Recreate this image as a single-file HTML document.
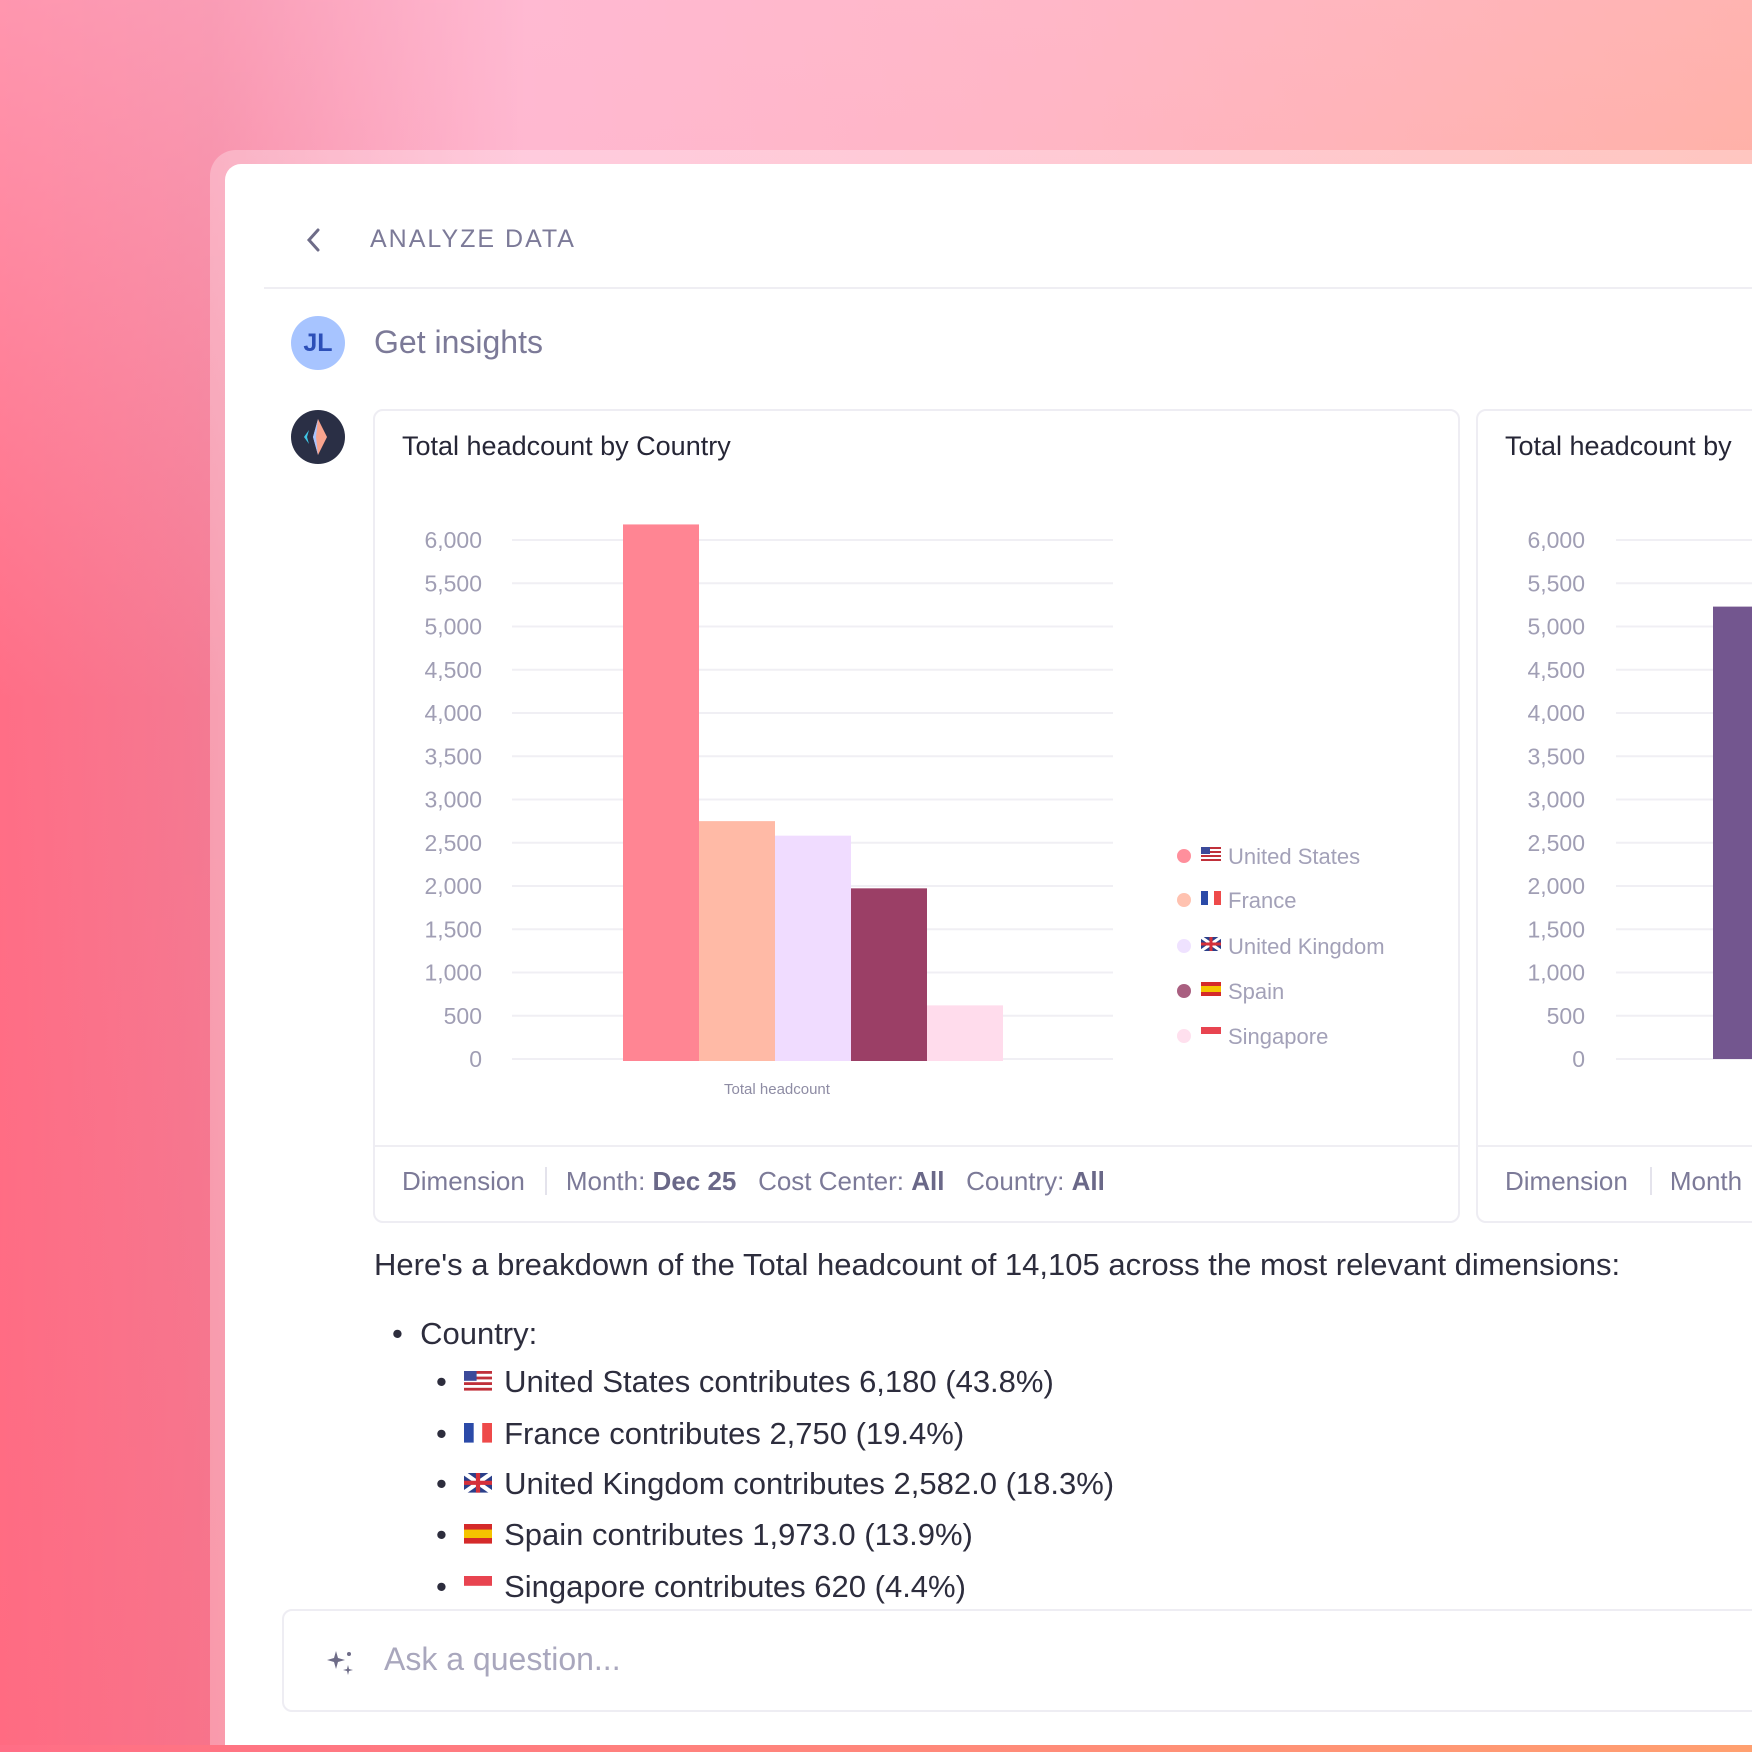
<!DOCTYPE html>
<html><head><meta charset="utf-8">
<style>
*{margin:0;padding:0;box-sizing:border-box}
html,body{width:1752px;height:1752px;overflow:hidden}
body{font-family:"Liberation Sans",sans-serif}
#root{position:absolute;left:0;top:0;width:1752px;height:1752px;overflow:hidden;
background:linear-gradient(90deg,#ff6e86 0%,#f47a93 12%,#ffb4cc 30%,#ffb0b8 60%,#ffa98a 100%);}
#bgtop{position:absolute;left:0;top:0;width:1752px;height:1752px;background:linear-gradient(180deg,rgba(255,190,215,0.5) 0%,rgba(255,110,130,0) 40%,rgba(255,100,120,0.3) 100%)}
#frame{position:absolute;left:210px;top:150px;width:1542px;height:1602px;border-radius:26px 0 0 0;background:rgba(255,255,255,0.28)}
#panel{position:absolute;left:225px;top:164px;width:1527px;height:1588px;border-radius:16px 0 0 0;background:#fff}
#strip{position:absolute;left:0;top:1745px;width:1752px;height:7px;background:linear-gradient(90deg,#ff6e86,#ffa070)}
.abs{position:absolute;white-space:nowrap}
.muted{color:#7c7a98}
.card{position:absolute;border:2px solid #eeedf3;border-radius:10px;background:#fff;overflow:hidden}
</style></head><body>
<div id="root">
<div id="bgtop"></div>
<div id="frame"></div>
<div id="panel"></div>
<div id="strip"></div>

<svg class="abs" style="left:304px;top:227px" width="20" height="26"><path d="M14 3 L5 13 L14 23" stroke="#6e6c88" stroke-width="3" fill="none" stroke-linecap="round"/></svg>
<div class="abs muted" style="left:370px;top:225px;font-size:25px;letter-spacing:2px">ANALYZE DATA</div>
<div class="abs" style="left:264px;top:287px;width:1488px;height:2px;background:#efeef3"></div>

<div class="abs" style="left:291px;top:316px;width:54px;height:54px;border-radius:50%;background:#a7c4ff;color:#2c4fb8;font-weight:bold;font-size:25px;text-align:center;line-height:54px">JL</div>
<div class="abs muted" style="left:374px;top:324px;font-size:32px">Get insights</div>
<svg class="abs" style="left:291px;top:410px" width="54" height="54"><circle cx="27" cy="27" r="27" fill="#2a2f45"/><path d="M27 9 L36 27 L27 45 L22 27Z" fill="#f9a48e"/><path d="M27 9 L22 27 L27 45 L25 27Z" fill="#a7c4ff"/><path d="M18 20 L13 27 L18 34 L16 27Z" fill="#3fc6e6"/></svg>

<div class="card" style="left:373px;top:409px;width:1087px;height:814px">
  <div class="abs" style="left:27px;top:20px;font-size:27px;color:#262636">Total headcount by Country</div>
  <div class="abs" style="left:0;top:734px;width:1083px;height:2px;background:#efeef3"></div>
  <div class="abs muted" style="left:27px;top:755px;font-size:26px">
    <span>Dimension</span><span style="display:inline-block;width:2px;height:28px;background:#e4e3ec;margin:0 19px -5px 20px"></span><span>Month: <b style="color:#6a6888">Dec 25</b></span>&nbsp;&nbsp;&nbsp;<span>Cost Center: <b style="color:#6a6888">All</b></span>&nbsp;&nbsp;&nbsp;<span>Country: <b style="color:#6a6888">All</b></span>
  </div>
</div>
<svg id="chart1" class="abs" style="left:0;top:0" width="1480" height="1120"></svg>

<div class="card" style="left:1476px;top:409px;width:400px;height:814px">
  <div class="abs" style="left:27px;top:20px;font-size:27px;color:#262636">Total headcount by</div>
  <div class="abs" style="left:0;top:734px;width:400px;height:2px;background:#efeef3"></div>
  <div class="abs muted" style="left:27px;top:755px;font-size:26px"><span>Dimension</span><span style="display:inline-block;width:2px;height:28px;background:#e4e3ec;margin:0 18px -5px 22px"></span>Month</div>
</div>
<svg id="chart2" class="abs" style="left:1476px;top:409px" width="276" height="700"></svg>

<div class="abs" style="left:374px;top:1247px;font-size:31px;color:#2d2d3d">Here's a breakdown of the Total headcount of 14,105 across the most relevant dimensions:</div>
<div class="abs" style="left:392px;top:1316px;font-size:31px;color:#2d2d3d">•&nbsp;&nbsp;Country:</div>
<div id="bullets"></div>

<div class="abs" style="left:282px;top:1609px;width:1490px;height:103px;border:2px solid #eeedf3;border-radius:10px;background:#fff">
  <svg class="abs" style="left:40px;top:36px" width="32" height="32"><path d="M12 4 L14 11 L21 13 L14 15 L12 22 L10 15 L3 13 L10 11Z" fill="#6e6c88"/><path d="M24 18 L25 22 L29 23 L25 24 L24 28 L23 24 L19 23 L23 22Z" fill="#6e6c88"/><circle cx="25" cy="7" r="2" fill="#6e6c88"/></svg>
  <div class="abs" style="left:100px;top:30px;font-size:32px;color:#a9a7bd">Ask a question...</div>
</div>
</div>

<script>
const countries=["United States","France","United Kingdom","Spain","Singapore"];
const values=[6180,2750,2582,1973,620];
const colors=["#ff8593","#ffbaa6","#f0dcff","#9b3f66","#ffdcec"];
const legendDot=["#ff8f9c","#ffc2b0","#efe2ff","#a95f80","#ffe0ee"];
const yTicks=[0,500,1000,1500,2000,2500,3000,3500,4000,4500,5000,5500,6000];
const tickLabels=["0","500","1,000","1,500","2,000","2,500","3,000","3,500","4,000","4,500","5,000","5,500","6,000"];
const flagColors=[["#c0303a","#fff","#3c4a9a"],["#2b4aa8","#fff","#ee4a4a"],["#2b3f8a","#fff","#d5303a"],["#d52a2a","#f5c400","#d52a2a"],["#e84450","#fff","#fff"]];
const series2=[5230];
const pcts=["6,180 (43.8%)","2,750 (19.4%)","2,582.0 (18.3%)","1,973.0 (13.9%)","620 (4.4%)"];
const NS="http://www.w3.org/2000/svg";
function el(t,a,p){const e=document.createElementNS(NS,t);for(const k in a)e.setAttribute(k,a[k]);p.appendChild(e);return e;}
const y=v=>1059-v*(519/6000);
const svg=document.getElementById('chart1');
yTicks.forEach((t,i)=>{
  const g=el('line',{x1:512,x2:1113,y1:y(t),y2:y(t),stroke:'#f0eff4','stroke-width':2},svg);
  
  
  const tx=el('text',{x:482,y:y(t)+8,'text-anchor':'end','font-size':23,fill:'#a09eb4','font-family':'Liberation Sans'},svg);
  tx.textContent=tickLabels[i];
  
  
});
const bx0=623,bw=76;
values.forEach((v,i)=>{
  const r=el('rect',{x:bx0+i*bw,y:y(v),width:bw,height:1061-y(v),fill:colors[i]},svg);
  
  
});
const xl=el('text',{x:777,y:1094,'text-anchor':'middle','font-size':15,fill:'#8e8ca4','font-family':'Liberation Sans'},svg);
xl.textContent='Total headcount';


function flag(parent,x,yy,i){
  const c=flagColors[i];
  if(i===0||i===2||i===4){
    el('rect',{x:x,y:yy,width:20,height:14,fill:c[1]},parent);
    if(i===0){for(let k=0;k<4;k++)el('rect',{x:x,y:yy+k*4,width:20,height:2,fill:c[0]},parent);el('rect',{x:x,y:yy,width:9,height:7,fill:c[2]},parent);}
    if(i===2){el('rect',{x:x,y:yy,width:20,height:14,fill:c[0]},parent);el('path',{d:`M${x} ${yy}L${x+20} ${yy+14}M${x+20} ${yy}L${x} ${yy+14}`,stroke:'#fff','stroke-width':3},parent);el('path',{d:`M${x+10} ${yy}V${yy+14}M${x} ${yy+7}H${x+20}`,stroke:c[2],'stroke-width':3},parent);}
    if(i===4){el('rect',{x:x,y:yy,width:20,height:7,fill:c[0]},parent);}
  }else if(i===1){el('rect',{x:x,y:yy,width:7,height:14,fill:c[0]},parent);el('rect',{x:x+7,y:yy,width:6,height:14,fill:'#fff'},parent);el('rect',{x:x+13,y:yy,width:7,height:14,fill:c[2]},parent);}
  else {el('rect',{x:x,y:yy,width:20,height:14,fill:c[0]},parent);el('rect',{x:x,y:yy+4,width:20,height:6,fill:c[1]},parent);}
}
const ly=[856,900,946,991,1036];
countries.forEach((c,i)=>{
  const g=el('g',{},svg);
  
  
  el('circle',{cx:1184,cy:ly[i],r:7,fill:legendDot[i]},g);
  flag(g,1201,ly[i]-9,i);
  const t=el('text',{x:1228,y:ly[i]+8,'font-size':22,fill:'#a3a1b8','font-family':'Liberation Sans'},g);
  t.textContent=c;
});
const s2=document.getElementById('chart2');
const y2=v=>650-v*(519/6000);
yTicks.forEach((t,i)=>{
  const g=el('line',{x1:140,x2:276,y1:y2(t),y2:y2(t),stroke:'#f0eff4','stroke-width':2},s2);
  
  
  const tx=el('text',{x:109,y:y2(t)+8,'text-anchor':'end','font-size':23,fill:'#a09eb4','font-family':'Liberation Sans'},s2);
  tx.textContent=tickLabels[i];
  
  
});
series2.forEach(v=>{
  const r=el('rect',{x:237,y:y2(v),width:60,height:650-y2(v),fill:'#73568f'},s2);
  
  
});
const bl=document.getElementById('bullets');
const by=[1364,1416,1466,1517,1569];
countries.forEach((c,i)=>{
  const d=document.createElement('div');
  d.className='abs';
  
  
  d.style.cssText=`left:436px;top:${by[i]}px;font-size:31px;color:#2d2d3d`;
  d.innerHTML=`•&nbsp;&nbsp;<svg width="30" height="22" style="vertical-align:-1px;margin-right:10px"></svg>${c} contributes ${pcts[i]}`;
  const s=d.querySelector('svg');
  const g=el('g',{transform:'scale(1.4)'},s);
  flag(g,0,0,i);
  bl.appendChild(d);
});
</script>
</body></html>
